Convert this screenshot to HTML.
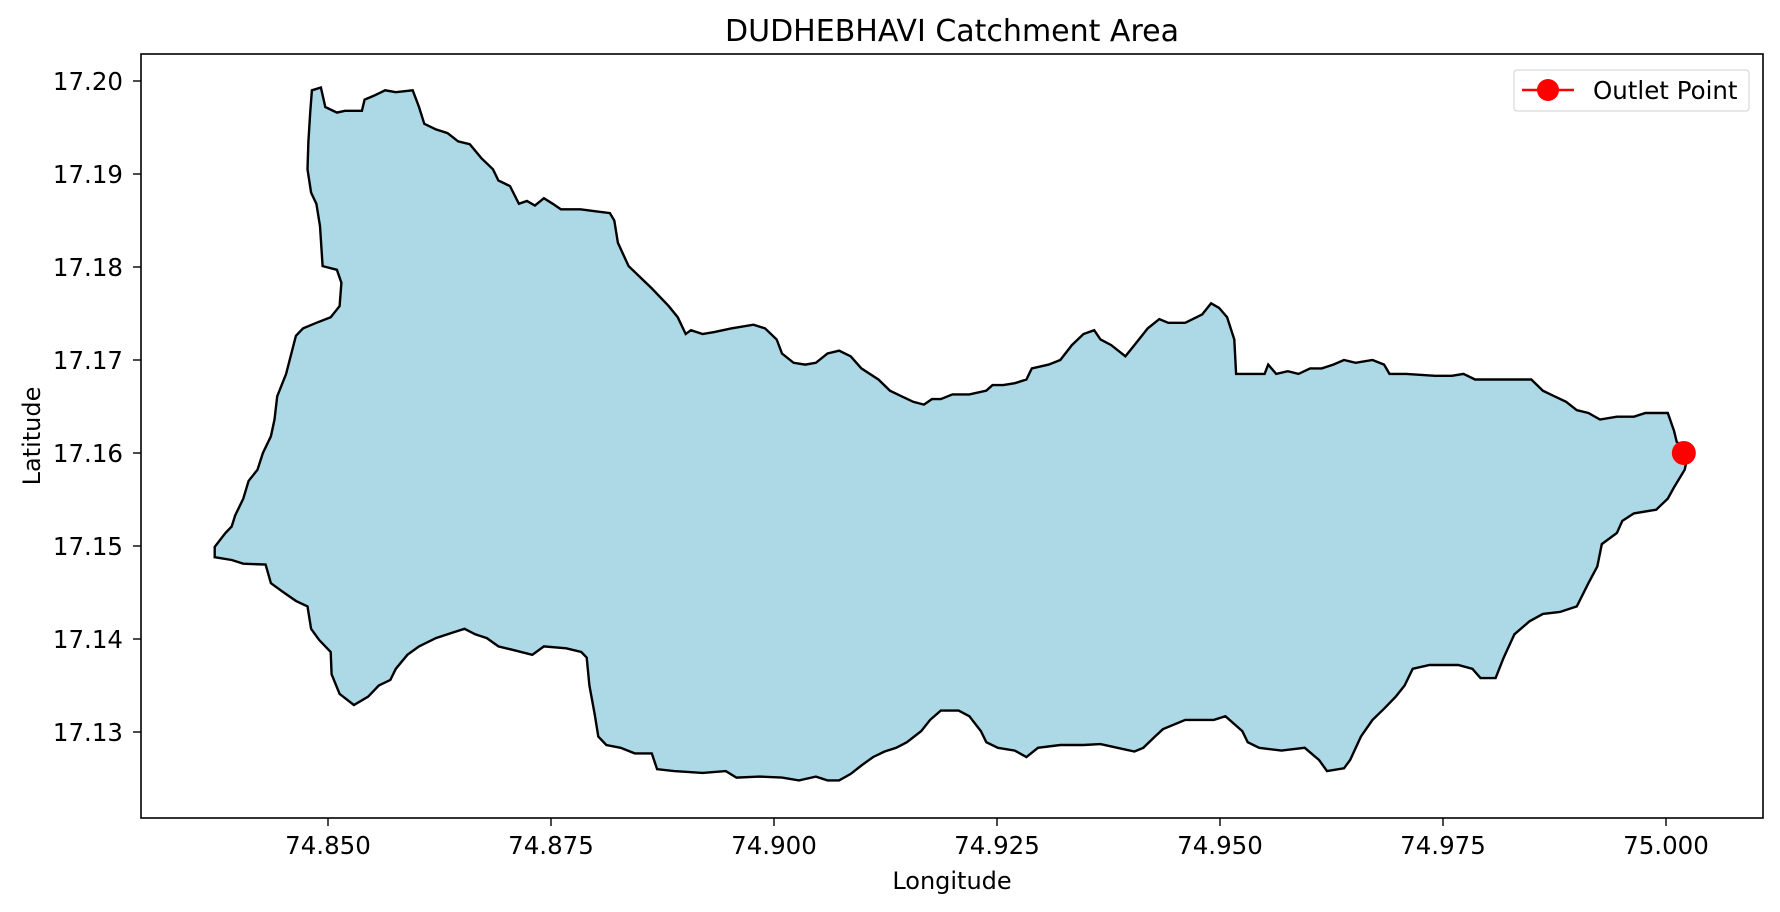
<!DOCTYPE html>
<html><head><meta charset="utf-8"><style>
html,body{margin:0;padding:0;background:#fff;}
svg{display:block;font-family:"DejaVu Sans","Liberation Sans",sans-serif;}
</style></head><body>
<svg id="chart" width="1780" height="912" viewBox="0 0 1780 912">
<text x="952" y="41" text-anchor="middle" font-size="30" fill="#000">DUDHEBHAVI Catchment Area</text>
<g id="plot"></g>
<rect x="141" y="54" width="1622" height="764" fill="none" stroke="#000" stroke-width="1.6"/>
<g id="xticks"></g>
<g id="yticks"></g>
<text x="952" y="889" text-anchor="middle" font-size="24">Longitude</text>
<text x="0" y="0" transform="translate(40,436) rotate(-90)" text-anchor="middle" font-size="24">Latitude</text>
<g>
<rect x="1514" y="70" width="235" height="41" rx="3" fill="#fff" stroke="#d0d0d0" stroke-width="1"/>
<line x1="1522" y1="90" x2="1574" y2="90" stroke="#ff0000" stroke-width="2.5"/>
<circle cx="1548" cy="90" r="11" fill="#ff0000"/>
<text x="1593" y="99" font-size="24.5">Outlet Point</text>
</g>
</svg>
<script>
// longitude in thousandths of a degree above 74, latitude in thousandths above 17
const lonK=[848.2,849.2,849.7,851.0,851.9,853.8,854.1,855.1,856.4,857.6,859.5,860.2,860.8,862.1,863.4,864.6,865.9,867.2,868.5,869.1,870.4,871.4,872.3,873.2,874.2,875.2,876.1,878.3,879.9,881.6,882.1,882.5,883.7,885.0,886.3,888.2,889.2,890.1,890.7,892.0,893.3,895.2,897.7,899.0,900.3,900.9,902.2,903.5,904.7,906.0,907.3,908.6,909.8,911.7,913.0,914.3,915.6,916.8,917.7,918.7,920.0,921.9,923.8,924.5,925.7,927.0,928.3,928.9,930.8,932.1,933.4,934.7,935.9,936.6,937.8,939.4,940.4,941.9,943.2,944.2,946.1,948.0,949.0,949.9,950.8,951.6,951.8,953.7,955.0,955.4,956.3,957.6,958.8,960.1,961.4,962.7,963.9,965.2,967.1,968.4,969.0,970.9,974.1,976.0,977.3,978.6,981.1,984.9,986.2,987.5,988.8,990.0,991.3,992.6,994.5,996.4,997.7,1000.2,1000.9,1001.2,1002.5,1002.1,1000.9,1000.2,998.9,996.4,995.1,994.5,992.8,992.3,991.3,990.0,988.1,986.2,984.7,983.0,981.8,980.9,979.2,978.3,976.7,973.5,971.6,970.7,969.7,968.4,967.1,965.8,964.6,963.9,962.0,961.1,959.5,956.9,954.4,953.1,952.5,950.6,949.3,946.1,943.6,942.7,941.4,940.4,938.5,936.6,934.7,932.1,929.6,928.3,927.0,925.1,923.8,923.2,921.9,920.7,918.7,917.5,916.5,914.9,913.7,912.4,911.1,909.8,908.6,907.3,906.0,904.7,902.8,900.9,898.4,895.8,894.6,892.0,888.8,886.9,886.3,884.4,882.8,881.2,880.3,879.9,879.3,879.0,878.4,876.7,874.2,872.9,870.4,869.1,867.8,866.5,865.3,864.0,862.1,860.2,858.9,857.6,857.0,855.7,854.5,852.9,851.3,850.4,850.3,849.0,848.1,847.7,846.4,844.9,843.6,843.0,840.5,839.2,837.3,837.3,838.5,839.2,839.6,840.5,841.1,842.1,842.7,843.6,844.0,844.3,845.3,846.4,847.2,848.7,850.3,851.3,851.5,851.0,849.4,849.1,848.7,848.1,847.7,847.8,848.0];
const latK=[199.0,199.3,197.2,196.6,196.8,196.8,198.0,198.4,199.0,198.8,199.0,197.2,195.4,194.8,194.4,193.5,193.2,191.7,190.5,189.3,188.7,186.8,187.1,186.6,187.4,186.8,186.2,186.2,186.0,185.8,185.0,182.6,180.1,178.9,177.7,175.8,174.6,172.8,173.2,172.8,173.0,173.4,173.8,173.4,172.2,170.7,169.7,169.5,169.7,170.7,171.0,170.4,169.1,167.9,166.7,166.1,165.5,165.2,165.8,165.8,166.3,166.3,166.7,167.3,167.3,167.5,167.9,169.1,169.5,170.0,171.6,172.8,173.2,172.2,171.6,170.4,171.6,173.4,174.4,174.0,174.0,174.9,176.1,175.6,174.6,172.2,168.5,168.5,168.5,169.5,168.5,168.8,168.5,169.1,169.1,169.5,170.0,169.7,170.0,169.5,168.5,168.5,168.3,168.3,168.5,167.9,167.9,167.9,166.7,166.1,165.5,164.6,164.3,163.6,163.9,163.9,164.3,164.3,162.4,161.2,160.0,158.2,156.3,155.1,153.9,153.5,152.7,151.4,150.2,147.8,146.0,143.5,142.9,142.7,141.9,140.5,138.0,135.8,135.8,136.8,137.2,137.2,136.8,135.0,133.8,132.5,131.3,129.5,127.0,126.1,125.8,127.0,128.3,128.0,128.3,128.9,130.1,131.7,131.3,131.3,130.3,129.5,128.3,127.9,128.3,128.7,128.6,128.6,128.3,127.3,128.0,128.3,128.9,130.1,131.7,132.3,132.3,131.3,130.1,128.9,128.3,127.9,127.3,126.4,125.5,124.8,124.8,125.2,124.8,125.1,125.2,125.1,125.8,125.6,125.8,126.0,127.7,127.7,128.3,128.6,129.5,131.9,135.0,138.0,138.6,139.0,139.2,138.3,138.9,139.2,140.1,140.5,141.1,140.7,140.1,139.2,138.3,136.8,135.6,135.0,133.8,132.9,134.1,136.2,138.6,139.9,141.1,143.5,144.1,145.1,146.0,148.0,148.1,148.5,148.8,149.9,151.4,152.1,153.3,155.1,157.0,158.2,160.0,161.8,163.6,166.1,168.5,172.6,173.4,174.0,174.6,175.8,178.3,179.7,180.1,184.4,186.8,188.0,190.5,193.5,196.6];
const outletLon=[75.002];
const outletLat=[17.160];
const xTicks=[74.850,74.875,74.900,74.925,74.950,74.975,75.000];
const yTicks=[17.13,17.14,17.15,17.16,17.17,17.18,17.19,17.20];

const NS='http://www.w3.org/2000/svg';
function xS(lon){return 1666+(lon-75.0)*8920;}
function yS(lat){return 81+(17.20-lat)*9300;}
function mk(tag,attrs,parent){const e=document.createElementNS(NS,tag);for(const k in attrs)e.setAttribute(k,attrs[k]);parent.appendChild(e);return e;}

const plot=document.getElementById('plot');
let pts=[];
for(let i=0;i<lonK.length;i++){pts.push(xS(74+lonK[i]/1000).toFixed(1)+','+yS(17+latK[i]/1000).toFixed(1));}
const poly=mk('polygon',{points:pts.join(' '),fill:'#add8e6',stroke:'#000','stroke-width':2.4,'stroke-linejoin':'miter'},plot);


for(let i=0;i<outletLon.length;i++){
  const c=mk('circle',{cx:xS(outletLon[i]),cy:yS(outletLat[i]),r:12,fill:'#ff0000'},plot);
  
  
}
const xg=document.getElementById('xticks');
xTicks.forEach(v=>{
  const x=xS(v);
  const l=mk('line',{x1:x,y1:818,x2:x,y2:826,stroke:'#000','stroke-width':1.4},xg);
  
  
  const t=mk('text',{x:x,y:854,'text-anchor':'middle','font-size':24.5},xg);
  t.textContent=v.toFixed(3);
  
  
});
const yg=document.getElementById('yticks');
yTicks.forEach(v=>{
  const y=yS(v);
  const l=mk('line',{x1:133,y1:y,x2:141,y2:y,stroke:'#000','stroke-width':1.4},yg);
  
  
  const t=mk('text',{x:123,y:y+9,'text-anchor':'end','font-size':24.5},yg);
  t.textContent=v.toFixed(2);
  
  
});
</script>
</body></html>
